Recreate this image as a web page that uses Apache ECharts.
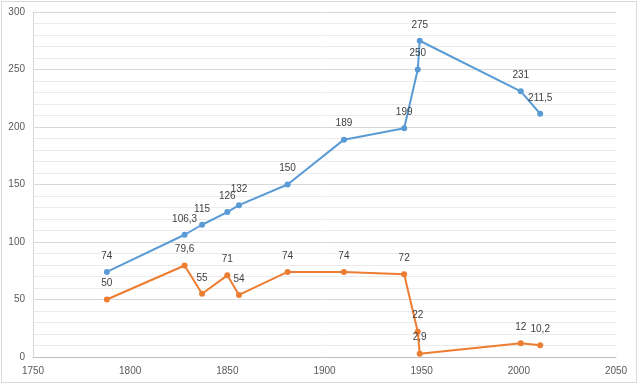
<!DOCTYPE html>
<html>
<head>
<meta charset="utf-8">
<script src="https://cdn.jsdelivr.net/npm/echarts@6/dist/echarts.min.js"></script>
<style>
html,body{margin:0;padding:0;background:#fff;}
#frame{position:absolute;left:1px;top:1px;width:634px;height:380px;border:1px solid #D9D9D9;}
#chart{position:absolute;left:0;top:0;width:640px;height:385px;}
</style>
</head>
<body>
<div id="frame"></div>
<div id="chart"></div>
<script>
var years = [1788, 1828, 1837, 1850, 1856, 1881, 1910, 1941, 1948, 1949, 2001, 2011];
var seriesA = [74, 106.3, 115, 126, 132, 150, 189, 199, 250, 275, 231, 211.5];
var seriesB = [50, 79.6, 55, 71, 54, 74, 74, 72, 22, 2.9, 12, 10.2];
var xTicks = [1750, 1800, 1850, 1900, 1950, 2000, 2050];
var yTicks = [0, 50, 100, 150, 200, 250, 300];

function pairs(xs, ys) { return xs.map(function (x, i) { return [x, ys[i]]; }); }
function fmt(p) { return String(p.value[1]).replace('.', ','); }

var font = 'Liberation Sans, Arial, sans-serif';
var chart = echarts.init(document.getElementById('chart'), null, { renderer: 'canvas' });
chart.setOption({
  animation: false,
  backgroundColor: 'transparent',
  grid: { left: 33, right: 24, top: 12, bottom: 28, containLabel: false },
  xAxis: {
    type: 'value',
    min: xTicks[0], max: xTicks[xTicks.length - 1], interval: 50,
    axisLine: { show: true, lineStyle: { color: '#BFBFBF', width: 1 } },
    axisTick: { show: false },
    splitLine: { show: false },
    axisLabel: { color: '#595959', fontSize: 10, fontFamily: font, margin: 9, formatter: function (v) { return String(v); } }
  },
  yAxis: {
    type: 'value',
    min: yTicks[0], max: yTicks[yTicks.length - 1], interval: 50,
    axisLine: { show: true, lineStyle: { color: '#D9D9D9', width: 1 } },
    axisTick: { show: false },
    splitLine: { show: true, lineStyle: { color: '#D9D9D9', width: 1 } },
    minorTick: { show: false, splitNumber: 5 },
    minorSplitLine: { show: true, lineStyle: { color: '#EBEBEB', width: 1 } },
    axisLabel: { color: '#595959', fontSize: 10, fontFamily: font, margin: 8, formatter: function (v) { return String(v); } }
  },
  series: [
    {
      type: 'line', data: pairs(years, seriesA),
      symbol: 'circle', symbolSize: 6,
      itemStyle: { color: '#5B9BD5' },
      lineStyle: { color: '#5B9BD5', width: 2 },
      label: { show: true, position: 'top', distance: 8, formatter: fmt, color: '#404040', fontSize: 10, fontFamily: font }
    },
    {
      type: 'line', data: pairs(years, seriesB),
      symbol: 'circle', symbolSize: 6,
      itemStyle: { color: '#ED7D31' },
      lineStyle: { color: '#ED7D31', width: 2 },
      label: { show: true, position: 'top', distance: 8, formatter: fmt, color: '#404040', fontSize: 10, fontFamily: font }
    }
  ]
});
</script>
</body>
</html>
